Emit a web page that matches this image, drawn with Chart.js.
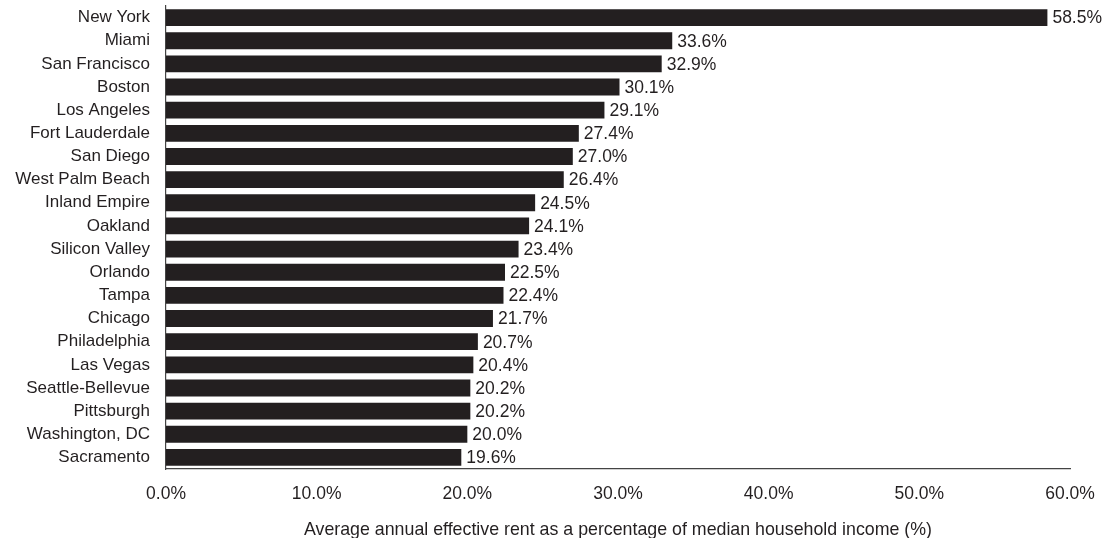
<!DOCTYPE html>
<html>
<head>
<meta charset="utf-8">
<script src="https://cdn.jsdelivr.net/npm/chart.js@4"></script>
<style>
html,body{margin:0;padding:0;background:#fff;}
#wrap{width:1106px;height:538px;position:relative;}
</style>
</head>
<body>
<div id="wrap"><canvas id="c"></canvas></div>
<script>
const cities = ["New York","Miami","San Francisco","Boston","Los Angeles","Fort Lauderdale","San Diego","West Palm Beach","Inland Empire","Oakland","Silicon Valley","Orlando","Tampa","Chicago","Philadelphia","Las Vegas","Seattle-Bellevue","Pittsburgh","Washington, DC","Sacramento"];
const rentShare = [58.5,33.6,32.9,30.1,29.1,27.4,27.0,26.4,24.5,24.1,23.4,22.5,22.4,21.7,20.7,20.4,20.2,20.2,20.0,19.6];
const xTicks = [0,10,20,30,40,50,60];
const xTitle = "Average annual effective rent as a percentage of median household income (%)";

const INK = '#231f20';
const FONT = 'Liberation Sans, Arial, Helvetica, sans-serif';

const valueLabels = {
  id:'valueLabels',
  afterDatasetsDraw(chart){
    const ctx = chart.ctx;
    const meta = chart.getDatasetMeta(0);
    ctx.save();
    ctx.font = '17.5px ' + FONT;
    ctx.fillStyle = INK;
    ctx.textAlign = 'left';
    ctx.textBaseline = 'middle';
    meta.data.forEach((bar,i)=>{
      ctx.fillText(rentShare[i].toFixed(1)+'%', bar.x + 5, bar.y + 1);
    });
    ctx.restore();
  }
};

new Chart(document.getElementById('c'),{
  type:'bar',
  data:{labels:cities,datasets:[{data:rentShare,backgroundColor:INK,borderWidth:0,barPercentage:0.73,categoryPercentage:1}]},
  options:{
    indexAxis:'y',
    responsive:true,
    maintainAspectRatio:false,
    animation:false,
    layout:{padding:{top:6,right:36,bottom:0,left:0}},
    plugins:{legend:{display:false},tooltip:{enabled:false}},
    scales:{
      x:{
        min:0,max:60,
        afterBuildTicks(axis){ axis.ticks = xTicks.map(v=>({value:v})); },
        grid:{display:false,drawTicks:false},
        border:{display:true,color:'#444',width:1.2},
        ticks:{color:INK,font:{family:FONT,size:17.5},padding:15,callback:v=>v.toFixed(1)+'%',maxRotation:0},
        title:{display:true,text:xTitle,color:INK,font:{family:FONT,size:17.8},padding:{top:15.5,bottom:-3}},
        afterFit(axis){ axis.height = 69; axis.paddingLeft = 0; axis.paddingRight = 0; }
      },
      y:{
        grid:{display:false,drawTicks:false},
        border:{display:true,color:'#444',width:1.2},
        ticks:{color:INK,font:{family:FONT,size:17},padding:16,autoSkip:false},
        afterFit(axis){ axis.width = 166; axis.paddingTop = 0; axis.paddingBottom = 0; }
      }
    }
  },
  plugins:[valueLabels]
});
</script>
</body>
</html>
